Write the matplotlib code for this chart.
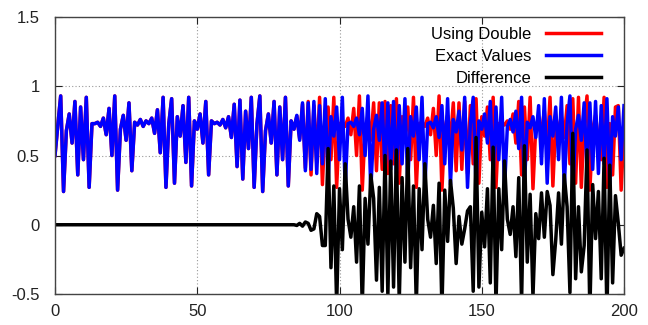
import matplotlib
matplotlib.use("Agg")
import matplotlib.pyplot as plt

# exact values (blue), read step by step from the picture, n = 0..200
exact_values = [
    0.50, 0.72, 0.93, 0.24, 0.68, 0.80, 0.59, 0.89, 0.36, 0.85,
    0.47, 0.92, 0.27, 0.73, 0.73, 0.74, 0.71, 0.77, 0.65, 0.84,
    0.50, 0.93, 0.25, 0.69, 0.79, 0.61, 0.88, 0.39, 0.74, 0.72,
    0.76, 0.71, 0.75, 0.73, 0.77, 0.66, 0.83, 0.52, 0.92, 0.27,
    0.73, 0.91, 0.30, 0.78, 0.64, 0.86, 0.45, 0.92, 0.28, 0.75,
    0.69, 0.80, 0.59, 0.89, 0.36, 0.75, 0.73, 0.74, 0.72, 0.76,
    0.70, 0.78, 0.63, 0.87, 0.42, 0.90, 0.33, 0.82, 0.55, 0.92,
    0.27, 0.73, 0.93, 0.24, 0.68, 0.80, 0.59, 0.89, 0.36, 0.85,
    0.47, 0.92, 0.28, 0.75, 0.69, 0.79, 0.61, 0.88, 0.39, 0.88,
    0.40, 0.89, 0.37, 0.86, 0.44, 0.91, 0.30, 0.78, 0.64, 0.85,
    0.47, 0.92, 0.27, 0.73, 0.74, 0.71, 0.77, 0.65, 0.84, 0.50,
    0.93, 0.25, 0.69, 0.79, 0.61, 0.88, 0.39, 0.88, 0.40, 0.89,
    0.37, 0.86, 0.44, 0.91, 0.30, 0.78, 0.64, 0.85, 0.47, 0.92,
    0.27, 0.73, 0.74, 0.70, 0.78, 0.63, 0.86, 0.44, 0.91, 0.29,
    0.76, 0.67, 0.82, 0.54, 0.92, 0.27, 0.73, 0.92, 0.28, 0.75,
    0.69, 0.80, 0.59, 0.89, 0.36, 0.85, 0.47, 0.92, 0.26, 0.71,
    0.76, 0.67, 0.82, 0.55, 0.92, 0.28, 0.74, 0.70, 0.78, 0.63,
    0.86, 0.44, 0.91, 0.30, 0.78, 0.64, 0.85, 0.47, 0.92, 0.27,
    0.73, 0.93, 0.25, 0.69, 0.79, 0.61, 0.88, 0.39, 0.88, 0.40,
    0.89, 0.37, 0.86, 0.44, 0.91, 0.30, 0.78, 0.64, 0.85, 0.47,
    0.86,
]

# double precision run: same as exact up to n = 84, then drifts away
double_start = 85
double_tail = [
    0.785, 0.62, 0.87, 0.41, 0.89, 0.36, 0.86, 0.45, 0.92, 0.29, 0.76,
    0.85, 0.47, 0.92, 0.27, 0.73, 0.74, 0.71, 0.77, 0.65, 0.84, 0.50,
    0.93, 0.25, 0.69,
    0.79, 0.61, 0.88, 0.39, 0.88, 0.40, 0.89, 0.37, 0.86, 0.44,
    0.91, 0.30, 0.78, 0.64, 0.85, 0.47, 0.92, 0.27, 0.73, 0.74,
    0.71, 0.77, 0.65, 0.84, 0.50, 0.93, 0.25, 0.69, 0.79, 0.61,
    0.88, 0.39, 0.88, 0.40, 0.89, 0.37, 0.86, 0.44, 0.91, 0.30,
    0.78, 0.64, 0.85, 0.47, 0.92, 0.27, 0.73, 0.74, 0.72, 0.75,
    0.69, 0.80, 0.59, 0.89, 0.36, 0.85, 0.47, 0.92, 0.26, 0.71,
    0.76, 0.67, 0.82, 0.54, 0.92, 0.28, 0.74, 0.70, 0.78, 0.63,
    0.86, 0.44, 0.91, 0.30,
    0.92, 0.27, 0.73, 0.93, 0.25, 0.69, 0.79, 0.61,
    0.47, 0.92, 0.27, 0.73, 0.36, 0.85, 0.86, 0.25, 0.69,
]

x_ticks = [0, 50, 100, 150, 200]
y_ticks = [-0.5, 0, 0.5, 1, 1.5]
y_tick_labels = ["-0.5", "0", "0.5", "1", "1.5"]

n = list(range(len(exact_values)))
using_double = exact_values[:double_start] + double_tail
difference = [d - e for d, e in zip(using_double, exact_values)]

plt.rcParams["font.family"] = ["Liberation Sans", "DejaVu Sans"]

fig = plt.figure(figsize=(6.48, 3.25), dpi=100)
ax = fig.add_axes([55 / 648, 31 / 325, 569 / 648, 277 / 325])

lw = 2.5
ax.plot(n, using_double, color="#ff0000", lw=lw, label="Using Double")
ax.plot(n, exact_values, color="#0000ff", lw=lw, label="Exact Values")
ax.plot(n, difference, color="#000000", lw=lw, label="Difference")

ax.set_xlim(0, 200)
ax.set_ylim(-0.5, 1.5)
ax.set_xticks(x_ticks)
ax.set_yticks(y_ticks)
ax.set_yticklabels(y_tick_labels)
ax.grid(True, color="#999999", linestyle=(0, (1, 2)), lw=0.8)
ax.set_axisbelow(True)
ax.tick_params(direction="in", top=True, right=True, length=5,
               labelsize=12, colors="#222222")
ax.tick_params(axis="y", pad=11)
ax.tick_params(axis="x", pad=7)
for s in ax.spines.values():
    s.set_color("#444444")
    s.set_linewidth(1)

ax.legend(loc="upper right", bbox_to_anchor=(0.98, 1.005), frameon=False,
          markerfirst=False, fontsize=12, handlelength=3.3,
          handletextpad=0.9, labelspacing=0.4, borderpad=0.2)

fig.savefig("out.png", dpi=100)
